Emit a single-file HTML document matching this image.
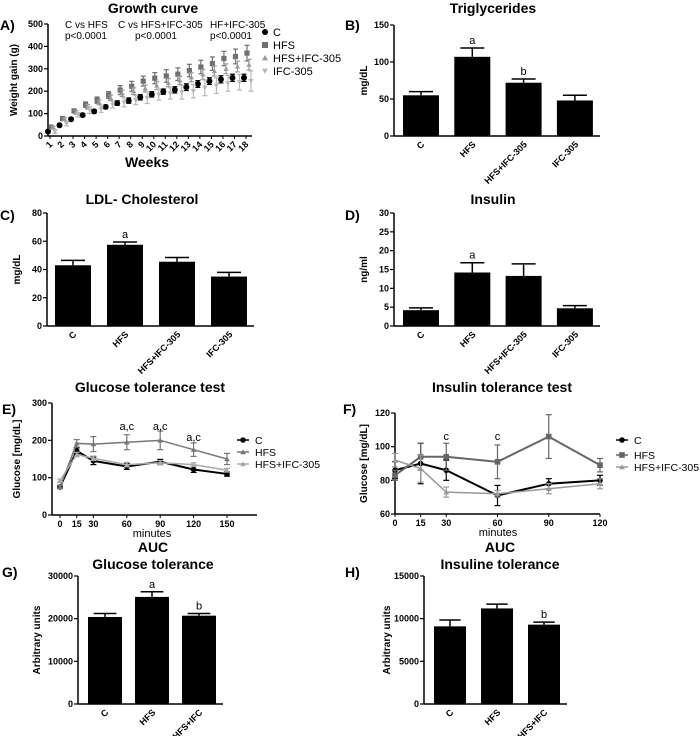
<!DOCTYPE html>
<html><head><meta charset="utf-8">
<style>
html,body{margin:0;padding:0;background:#fff;}
svg{display:block;font-family:"Liberation Sans",Arial,sans-serif;}
.t{font-weight:bold;font-size:14px;text-anchor:middle;}
.pl{font-weight:bold;font-size:14px;}
.tk{font-weight:bold;font-size:9px;}
.yl{font-weight:bold;font-size:10px;text-anchor:middle;}
.ann{font-size:10px;}
</style></head>
<body>
<svg id="fig" width="700" height="736" viewBox="0 0 700 736"></svg>
<script>
// ---------- DATA ----------
const weeks = [1,2,3,4,5,6,7,8,9,10,11,12,13,14,15,16,17,18];
const growthC = [20,48,75,93,110,130,147,158,173,186,198,206,218,232,245,253,260,260];
const growthHFS = [40,78,112,140,160,183,205,222,245,258,268,276,292,308,323,346,355,370];
const growthHFSIFC = [38,75,105,130,150,170,190,200,212,225,238,248,262,275,290,300,310,318];
const growthIFC = [20,55,95,115,120,140,150,160,170,185,190,195,200,215,225,235,240,245];
const growthErrC = [6,6,6,7,8,8,10,12,12,12,12,14,15,15,15,16,16,16];
const growthErrHFS = [6,8,8,12,14,15,20,22,22,25,28,28,28,30,30,32,33,35];
const growthErrHFSIFC = [5,6,8,10,10,12,14,15,15,18,18,18,20,22,22,22,24,24];
const growthErrIFC = [8,10,10,15,15,15,20,20,25,25,25,30,30,35,35,35,35,45];
const growthTicks = [0,100,200,300,400,500];

const groups4 = ["C","HFS","HFS+IFC-305","IFC-305"];
const trigVals = [55,107,72,48];
const trigErr = [5,12,5,7];
const trigTicks = [0,50,100,150];
const ldlVals = [43,57.5,45.5,35];
const ldlErr = [3.5,2,3,3];
const ldlTicks = [0,20,40,60,80];
const insVals = [4.2,14.2,13.3,4.7];
const insErr = [0.6,2.6,3.2,0.7];
const insTicks = [0,5,10,15,20,25,30];

const gttTimes = [0,15,30,60,90,120,150];
const gttC = [75,172,145,130,143,122,110];
const gttHFS = [75,192,190,195,200,175,150];
const gttHFSIFC = [92,162,152,135,140,135,120];
const gttErrC = [4,8,10,8,6,8,6];
const gttErrHFS = [4,10,20,20,25,18,15];
const gttErrHFSIFC = [4,6,6,6,6,5,5];
const gttTicks = [0,100,200,300];

const ittTimes = [0,15,30,60,90,120];
const ittC = [86,90,86,71,78,80];
const ittHFS = [83,94,94,91,106,89];
const ittHFSIFC = [92,87,73,72,75,78];
const ittErrC = [5,12,6,6,3,3];
const ittErrHFS = [3,8,8,10,13,4];
const ittErrHFSIFC = [4,8,3,2,3,3];
const ittTicks = [60,80,100,120];

const groups3 = ["C","HFS","HFS+IFC"];
const aucGVals = [20400,25100,20700];
const aucGErr = [800,1200,500];
const aucGTicks = [0,10000,20000,30000];
const aucIVals = [9100,11200,9300];
const aucIErr = [750,500,300];
const aucITicks = [0,5000,10000,15000];

// ---------- HELPERS ----------
const NS="http://www.w3.org/2000/svg";
const svg=document.getElementById('fig');
function mk(tag,attrs,parent,txt){const e=document.createElementNS(NS,tag);for(const k in attrs)e.setAttribute(k,attrs[k]);if(txt!==undefined)e.textContent=txt;(parent||svg).appendChild(e);return e;}
function lin(d0,d1,r0,r1){return v=>r0+(v-d0)*(r1-r0)/(d1-d0);}

function axes(g,x0,x1,yTop,yBot,ticks,ys){
  const ax=mk('line',{x1:x0,y1:yTop,x2:x0,y2:yBot,stroke:'#000','stroke-width':1.5},g);
  
  
  const bx=mk('line',{x1:x0,y1:yBot,x2:x1,y2:yBot,stroke:'#000','stroke-width':1.5},g);
  
  
  ticks.forEach(t=>{
    const y=ys(t);
    mk('line',{x1:x0-4,y1:y,x2:x0,y2:y,stroke:'#000','stroke-width':1.2},g);
    const tl=mk('text',{x:x0-5,y:y+3,'text-anchor':'end',class:'tk'},g,t);
    
    
  });
}

function barPanel(name,opt){
  const g=mk('g',{});
  
  
  const ys=lin(opt.ticks[0],opt.ticks[opt.ticks.length-1],opt.y0,opt.yTop);
  axes(g,opt.ax,opt.axEnd,opt.yTop,opt.y0,opt.ticks,ys);
  opt.cats.forEach((c,i)=>{
    const cx=opt.first+i*opt.step, v=opt.vals[i], e=opt.errs[i];
    const b=mk('rect',{x:cx-opt.bw/2,y:ys(v),width:opt.bw,height:opt.y0-ys(v),fill:'#000'},g);
    
    
    mk('line',{x1:cx,y1:ys(v),x2:cx,y2:ys(v+e),stroke:'#000','stroke-width':1.5},g);
    mk('line',{x1:cx-opt.bw/3,y1:ys(v+e),x2:cx+opt.bw/3,y2:ys(v+e),stroke:'#000','stroke-width':1.5},g);
    const lx=cx+4, ly=opt.y0+9;
    const l=mk('text',{x:lx,y:ly,'text-anchor':'end',class:'tk',transform:`rotate(-45 ${lx} ${ly})`},g,c);
    
    
    if(opt.sig && opt.sig[i]){
      const s=mk('text',{x:cx,y:ys(v+e)-4,'text-anchor':'middle','font-size':11},g,opt.sig[i]);
      
      
    }
  });
  const yl=mk('text',{x:opt.ylx,y:(opt.yTop+opt.y0)/2,class:'yl',transform:`rotate(-90 ${opt.ylx} ${(opt.yTop+opt.y0)/2})`},g,opt.ylabel);
  
  
}

function marker(g,type,x,y,col,s){
  if(type==='circle') return mk('circle',{cx:x,cy:y,r:s,fill:col},g);
  if(type==='square') return mk('rect',{x:x-s,y:y-s,width:2*s,height:2*s,fill:col},g);
  if(type==='tri') return mk('polygon',{points:`${x},${y-s} ${x-s},${y+s*0.8} ${x+s},${y+s*0.8}`,fill:col},g);
  return mk('polygon',{points:`${x},${y+s} ${x-s},${y-s*0.8} ${x+s},${y-s*0.8}`,fill:col},g);
}

function errBar(g,x,y1,y2,col,w){
  mk('line',{x1:x,y1:y1,x2:x,y2:y2,stroke:col,'stroke-width':1.2},g);
  mk('line',{x1:x-w,y1:y1,x2:x+w,y2:y1,stroke:col,'stroke-width':1.2},g);
  mk('line',{x1:x-w,y1:y2,x2:x+w,y2:y2,stroke:col,'stroke-width':1.2},g);
}

function title(txt,x,y,name){const t=mk('text',{x:x,y:y,class:'t'},svg,txt);}
function plabel(txt,x,y){const t=mk('text',{x:x,y:y,class:'pl'},svg,txt);}

// ---------- PANEL A ----------
(function(){
  const g=mk('g',{});
  
  
  const ys=lin(0,500,136,24);
  const xw=lin(1,18,50,246);
  axes(g,48,252,24,136,growthTicks,ys);
  weeks.forEach(w=>{
    const x=xw(w);
    mk('line',{x1:x,y1:136,x2:x,y2:139,stroke:'#000'},g);
    const l=mk('text',{x:x+3,y:145,'text-anchor':'end',class:'tk',transform:`rotate(-45 ${x+3} 145)`},g,w);
    
    
  });
  const series=[
    {n:'c',v:growthC,e:growthErrC,col:'#000',m:'circle',off:-2,s:3},
    {n:'hfs',v:growthHFS,e:growthErrHFS,col:'#707070',m:'square',off:1,s:2.6},
    {n:'hfs-ifc-305',v:growthHFSIFC,e:growthErrHFSIFC,col:'#9a9a9a',m:'tri',off:3,s:2.6},
    {n:'ifc-305',v:growthIFC,e:growthErrIFC,col:'#b8b8b8',m:'inv',off:5,s:2.6}];
  series.forEach(sr=>{
    weeks.forEach((w,i)=>{
      const x=xw(w)+sr.off;
      errBar(g,x,ys(sr.v[i]+sr.e[i]),ys(sr.v[i]-sr.e[i]),sr.col,2.5);
      const p=marker(g,sr.m,x,ys(sr.v[i]),sr.col,sr.s);
      
      
    });
  });
  const leg=[['C','circle','#000',32],['HFS','square','#707070',45],['HFS+IFC-305','tri','#9a9a9a',58],['IFC-305','inv','#b8b8b8',71]];
  leg.forEach(l=>{
    const le=mk('g',{},g);
    
    
    marker(le,l[1],265,l[3],l[2],3);
    mk('text',{x:273,y:l[3]+4,'font-size':11},le,l[0]);
  });
  [['C vs HFS',65,28],['p<0.0001',65,39],['C vs HFS+IFC-305',118,28],['p<0.0001',135,39],['HF+IFC-305',210,28],['p<0.0001',210,39]].forEach(a=>{
    const t=mk('text',{x:a[1],y:a[2],class:'ann'},g,a[0]);
    
    
  });
  const yl=mk('text',{x:17,y:80,class:'yl',transform:'rotate(-90 17 80)'},g,'Weight gain (g)');
  
  
  const xl=mk('text',{x:147,y:167,class:'t','font-size':15},g,'Weeks');
  
  
})();
title('Growth curve',153,13,'growth-curve-title');
plabel('A)',0,30);

// ---------- PANEL B ----------
title('Triglycerides',493,13,'triglycerides-title');
plabel('B)',345,30);
barPanel('triglycerides-chart',{ax:394,axEnd:600,yTop:25,y0:136,ticks:trigTicks,cats:groups4,vals:trigVals,errs:trigErr,first:421,step:51.3,bw:36,ylabel:'mg/dL',ylx:367,sig:['','a','b','']});

// ---------- PANEL C ----------
title('LDL- Cholesterol',142,204,'ldl-title');
plabel('C)',0,220);
barPanel('ldl-chart',{ax:47,axEnd:254,yTop:213,y0:326,ticks:ldlTicks,cats:groups4,vals:ldlVals,errs:ldlErr,first:73,step:52,bw:36,ylabel:'mg/dL',ylx:20,sig:['','a','','']});

// ---------- PANEL D ----------
title('Insulin',493,204,'insulin-title');
plabel('D)',345,220);
barPanel('insulin-chart',{ax:394,axEnd:600,yTop:213,y0:326,ticks:insTicks,cats:groups4,vals:insVals,errs:insErr,first:421,step:51.3,bw:36,ylabel:'ng/ml',ylx:367,sig:['','a','','']});

// ---------- LINE PANELS ----------
function linePanel(name,opt){
  const g=mk('g',{});
  
  
  const ys=lin(opt.ticks[0],opt.ticks[opt.ticks.length-1],opt.y0,opt.yTop);
  const xs=lin(0,opt.tmax,opt.x0,opt.x1);
  axes(g,opt.ax,opt.axEnd,opt.yTop,opt.y0,opt.ticks,ys);
  opt.times.forEach(t=>{
    const x=xs(t);
    mk('line',{x1:x,y1:opt.y0,x2:x,y2:opt.y0+3,stroke:'#000'},g);
    const l=mk('text',{x:x,y:opt.y0+12,'text-anchor':'middle',class:'tk'},g,t);
    
    
  });
  opt.series.forEach(sr=>{
    const pts=opt.times.map((t,i)=>xs(t)+','+ys(sr.v[i])).join(' ');
    const pl=mk('polyline',{points:pts,fill:'none',stroke:sr.col,'stroke-width':sr.w||1.5},g);
    
    
    opt.times.forEach((t,i)=>{
      errBar(g,xs(t),ys(sr.v[i]+sr.e[i]),ys(sr.v[i]-sr.e[i]),sr.col,3);
      const p=marker(g,sr.m,xs(t),ys(sr.v[i]),sr.col,2.8);
      
      
    });
  });
  opt.series.forEach((sr,i)=>{
    const le=mk('g',{},g);
    
    
    const ly=opt.legY[i];
    mk('line',{x1:opt.legX-6,y1:ly,x2:opt.legX+6,y2:ly,stroke:sr.col,'stroke-width':1.5},le);
    marker(le,sr.m,opt.legX,ly,sr.col,2.8);
    mk('text',{x:opt.legX+12,y:ly+4,'font-size':10.5},le,sr.label);
  });
  opt.sig.forEach(s=>{
    const t=mk('text',{x:xs(s[0]),y:s[1],'text-anchor':'middle','font-size':11},g,s[2]);
    
    
  });
  const cy=(opt.yTop+opt.y0)/2;
  const yl=mk('text',{x:opt.ylx,y:cy,class:'yl','font-size':11,transform:`rotate(-90 ${opt.ylx} ${cy})`},g,'Glucose [mg/dL]');
  
  
  const xl=mk('text',{x:opt.xlx,y:opt.y0+22,'text-anchor':'middle','font-size':11},g,'minutes');
  
  
}

title('Glucose tolerance test',150,392,'gtt-title');
plabel('E)',2,414);
linePanel('gtt-chart',{ax:52,axEnd:257,yTop:403,y0:515,x0:60,x1:227,tmax:150,ticks:gttTicks,times:gttTimes,
  series:[{n:'c',label:'C',v:gttC,e:gttErrC,col:'#000',m:'circle',w:2},
          {n:'hfs',label:'HFS',v:gttHFS,e:gttErrHFS,col:'#777',m:'tri'},
          {n:'hfs-ifc-305',label:'HFS+IFC-305',v:gttHFSIFC,e:gttErrHFSIFC,col:'#aaa',m:'tri'}],
  legX:243,legY:[440,452,464],sig:[[60,430,'a,c'],[90,430,'a,c'],[120,441,'a,c']],ylx:20,xlx:152});

title('Insulin tolerance test',502,392,'itt-title');
plabel('F)',343,414);
linePanel('itt-chart',{ax:395,axEnd:600,yTop:413,y0:514,x0:395,x1:600,tmax:120,ticks:ittTicks,times:ittTimes,
  series:[{n:'c',label:'C',v:ittC,e:ittErrC,col:'#000',m:'circle',w:2},
          {n:'hfs',label:'HFS',v:ittHFS,e:ittErrHFS,col:'#666',m:'square',w:2},
          {n:'hfs-ifc-305',label:'HFS+IFC-305',v:ittHFSIFC,e:ittErrHFSIFC,col:'#999',m:'tri'}],
  legX:622,legY:[440,455,467],sig:[[30,440,'c'],[60,440,'c']],ylx:367,xlx:498});

// ---------- PANEL G ----------
title('AUC',153,552,'auc-g-title');
title('Glucose tolerance',153,569,'auc-g-subtitle');
plabel('G)',2,577);
barPanel('auc-glucose-chart',{ax:78,axEnd:223,yTop:576,y0:704,ticks:aucGTicks,cats:groups3,vals:aucGVals,errs:aucGErr,first:105,step:47,bw:34,ylabel:'Arbitrary units',ylx:40,sig:['','a','b']});

// ---------- PANEL H ----------
title('AUC',500,552,'auc-h-title');
title('Insuline tolerance',500,569,'auc-h-subtitle');
plabel('H)',345,577);
barPanel('auc-insulin-chart',{ax:424,axEnd:567,yTop:576,y0:704,ticks:aucITicks,cats:groups3,vals:aucIVals,errs:aucIErr,first:450,step:47,bw:32,ylabel:'Arbitrary units',ylx:390,sig:['','','b']});
</script>
</body></html>
